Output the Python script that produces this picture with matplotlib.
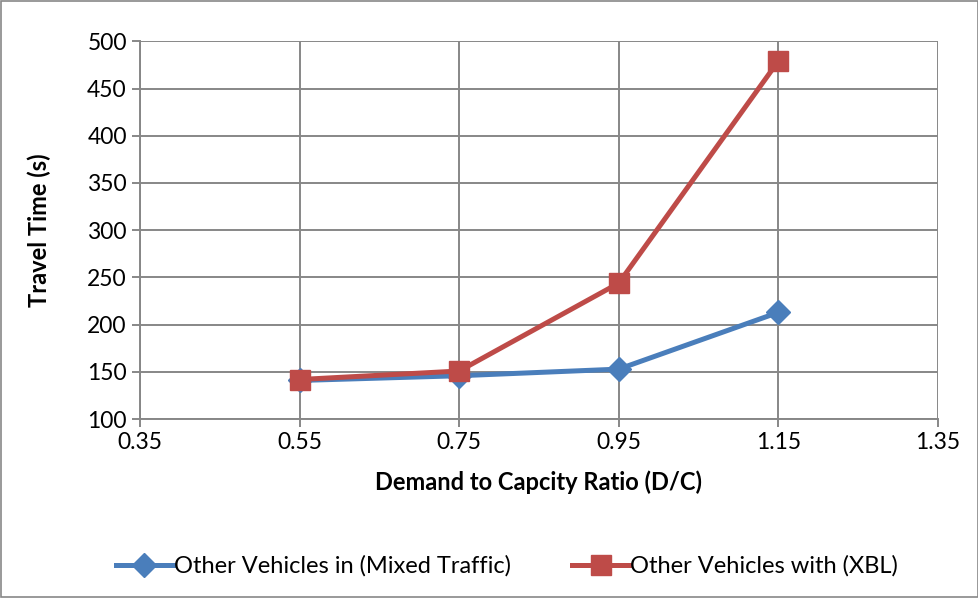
import matplotlib
matplotlib.use("Agg")
import matplotlib.pyplot as plt
from matplotlib.patches import Rectangle

plt.rcParams['font.family'] = ['Lato', 'DejaVu Sans']

dc_ratio = [0.55, 0.75, 0.95, 1.15]
mixed_traffic = [141, 146, 153, 213]
with_xbl = [142, 151, 244, 479]

fig = plt.figure(figsize=(9.79, 5.98), dpi=100)
ax = fig.add_axes([0.143, 0.299, 0.815, 0.632])

ax.plot(dc_ratio, mixed_traffic, color='#4A7EBB', lw=3.6, marker='D', ms=12,
        label='Other Vehicles in (Mixed Traffic)', zorder=3)
ax.plot(dc_ratio, with_xbl, color='#BE4B48', lw=3.6, marker='s', ms=14,
        label='Other Vehicles with (XBL)', zorder=4)

ax.set_xlim(0.35, 1.35)
ax.set_ylim(100, 500)
ax.set_xticks([0.35, 0.55, 0.75, 0.95, 1.15, 1.35])
ax.set_xticklabels(['0.35', '0.55', '0.75', '0.95', '1.15', '1.35'])
ax.set_yticks(range(100, 501, 50))
ax.grid(True, color='#878787', lw=1.4)
ax.set_axisbelow(True)
for s in ['top', 'right']:
    ax.spines[s].set_visible(False)
for s in ['left', 'bottom']:
    ax.spines[s].set_color('#878787')
    ax.spines[s].set_linewidth(1.4)
ax.tick_params(colors='#878787', labelcolor='black', labelsize=16.5, length=6, width=1.4)

ax.set_xlabel('Demand to Capcity Ratio (D/C)', fontsize=17, fontweight='bold', labelpad=12)
ax.set_ylabel('Travel Time (s)', fontsize=17, fontweight='bold', labelpad=26)

fig.legend(loc='center', bbox_to_anchor=(0.518, 0.053), ncol=2, frameon=False,
           fontsize=17, handlelength=2.4, columnspacing=2.6, handletextpad=0.05)

fig.patches.append(Rectangle((0.001, 0.001), 0.998, 0.998, transform=fig.transFigure,
                             fill=False, edgecolor='#878787', lw=1.2))

fig.savefig('out.png', dpi=100)
